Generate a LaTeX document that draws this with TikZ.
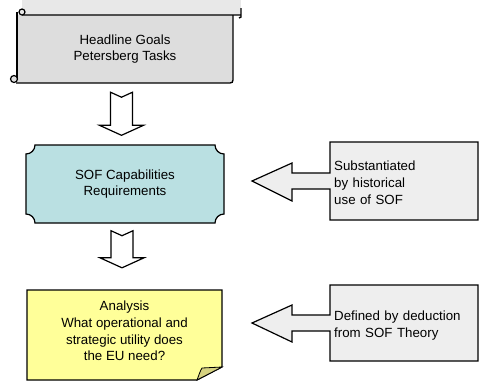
\documentclass[tikz,border=0pt]{standalone}
\usepackage{fontspec}
\setmainfont{Liberation Sans}
\usetikzlibrary{calc}
\definecolor{scrollgray}{RGB}{221,221,221}
\definecolor{rollgray}{RGB}{232,232,232}
\definecolor{capsblue}{RGB}{186,224,226}
\definecolor{noteyellow}{RGB}{255,255,153}
\definecolor{foldyellow}{RGB}{214,210,128}
\definecolor{calloutgray}{RGB}{238,238,238}
\begin{document}
\begin{tikzpicture}[x=1bp, y=-1bp,
    main/.style = {align=center, inner sep=0pt, font=\fontsize{13.3bp}{16bp}\selectfont},
    side/.style = {anchor=west, align=left, text width=140bp, inner xsep=4bp, font=\fontsize{13.3bp}{17bp}\selectfont},
    outline/.style = {draw, line width=1.2bp, line join=miter},
    downarrow/.style = {outline, fill=white, to path={let \p1=(\tikztostart), \p2=(\tikztotarget) in
        (\x1-11bp,\y1) -- (\x1,\y1-5bp) -- (\x1+11bp,\y1) -- (\x1+11bp,\y2+10bp) -- (\x1+22bp,\y2+10bp)
        -- (\x1,\y2) -- (\x1-22bp,\y2+10bp) -- (\x1-11bp,\y2+10bp) -- cycle}}]
    \useasboundingbox (0,0) rectangle (480,381);

    % scroll
    \fill[rollgray] (22,-3) rectangle (241,15);
    \fill[scrollgray] (17,15) rectangle (233,83);
    \draw[outline, line width=1.4bp] (22,15) -- (241,15) (241,8) -- (241,17) -- (239,18);
    \draw[outline, line width=1.4bp] (17,12) -- (17,80);
    \draw[outline, line width=1.4bp] (233,15) -- (233,80) .. controls (233,82) and (232,83) .. (230,83) -- (16,83);
    \draw[outline, fill=rollgray] (22,12) circle (3);
    \draw[outline, fill=scrollgray] (14,79) circle (3.5);

    % plaque
    \draw[outline, fill=capsblue] (26,154) .. controls (31,154) and (35,150) .. (35,145) -- (215,145)
        .. controls (215,150) and (219,154) .. (224,154) -- (224,214)
        .. controls (219,214) and (215,218) .. (215,223) -- (35,223)
        .. controls (35,218) and (31,214) .. (26,214) -- cycle;

    % note
    \draw[outline, fill=noteyellow] (27,290) -- (222,290) -- (222,367) -- (197,380) -- (27,380) -- cycle;
    \draw[outline, fill=foldyellow, line width=0.8bp] (197,380) .. controls (199,375) and (200,371) .. (202,368) -- (222,367) -- cycle;

    % callouts
    \draw[outline, fill=calloutgray] (330,142) -- (478,142) -- (478,220) -- (330,220) -- (330,189) -- (292,189)
        -- (292,201) -- (252,181) -- (292,163) -- (292,173) -- (330,173) -- cycle;
    \draw[outline, fill=calloutgray] (330,285) -- (478,285) -- (478,361) -- (330,361) -- (330,331) -- (292,331)
        -- (292,342) -- (252,323) -- (292,305) -- (292,315) -- (330,315) -- cycle;

    \node[main, minimum width=216bp, minimum height=68bp] (goals) at (125,49) {Headline Goals\\Petersberg Tasks};
    \node[main, minimum width=198bp, minimum height=78bp] (caps) at (125,184.5) {SOF Capabilities\\Requirements};
    \node[main, minimum width=195bp, minimum height=82bp, font=\fontsize{13.3bp}{16.7bp}\selectfont] (analysis) at (124.5,331)
        {Analysis\\What operational and\\strategic utility does\\the EU need?};
    \node[side] (hist) at (330,183) {Substantiated\\by historical\\use of SOF};
    \node[side] (deduct) at (330,325.5) {Defined by deduction\\from SOF Theory};

    \draw[downarrow] ([xshift=-3.5bp,yshift=-9bp]goals.south) to ([xshift=-3.5bp,yshift=10bp]caps.north);
    \draw[downarrow] ([xshift=-3bp,yshift=-7bp]caps.south) to ([xshift=-3bp,yshift=22bp]analysis.north);
\end{tikzpicture}
\end{document}
